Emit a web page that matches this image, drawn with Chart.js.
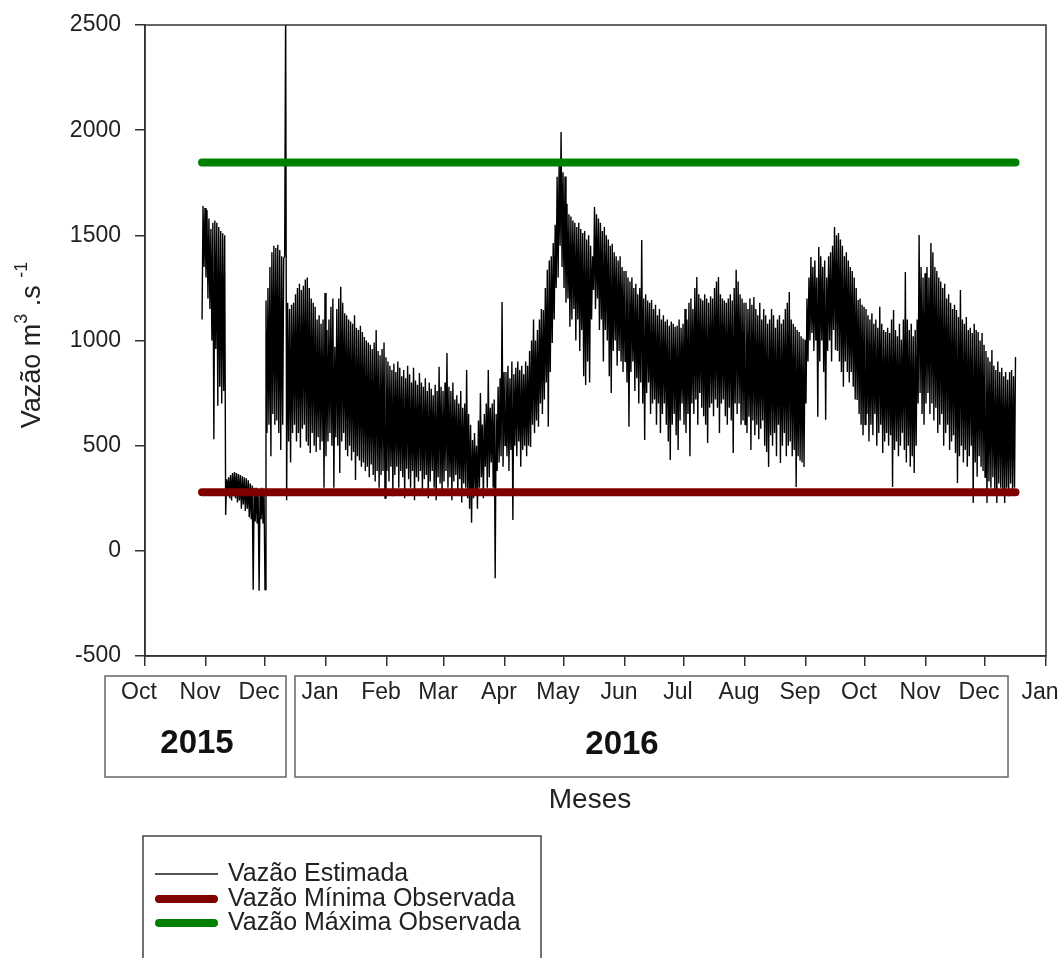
<!DOCTYPE html>
<html>
<head>
<meta charset="utf-8">
<script src="https://cdn.jsdelivr.net/npm/chart.js@4.4.1/dist/chart.umd.min.js"></script>
<style>
  html, body { margin: 0; padding: 0; background: #fff; }
  canvas { display: block; }
</style>
</head>
<body>
<canvas id="grafico" width="1059" height="958"></canvas>
<script>
// Vazão estimada (m3/s): para cada dia, o valor baixo e o alto
// da oscilação diária. dia 0 = 1 Oct 2015
const baixosOut15 = [1100, 1350];
const altosOut15  = [1640, 1630];
const baixosNov15 = [1300, 1200, 1150, 1000, 530, 960, 690, 780, 700, 760,
                     170, 280, 250, 240, 260, 250, 230, 240, 200, 220,
                     190, 200, 160, 150, -185, 140, 130, -190, 150, 130];
const altosNov15  = [1620, 1580, 1530, 1560, 1570, 1560, 1540, 1520, 1510, 1500,
                     340, 350, 360, 370, 375, 370, 365, 360, 355, 350,
                     345, 335, 320, 310, 300, 300, 290, 290, 300, 290];
const baixosDez15 = [-185, 560, 600, 450, 650, 600, 620, 560, 480, 600,
                     1400, 240, 520, 420, 560, 600, 520, 560, 490, 580,
                     600, 520, 500, 465, 560, 500, 470, 540, 480, 520,
                     300];
const altosDez15  = [1190, 1250, 1350, 1420, 1450, 1440, 1455, 1430, 1400, 1390,
                     2600, 1180, 1150, 1170, 1180, 1220, 1250, 1270, 1240, 1260,
                     1290, 1300, 1250, 1200, 1180, 1160, 1100, 1120, 1080, 1100,
                     1226];
const baixosJan16 = [450, 520, 560, 500, 300, 540, 500, 370, 520, 560,
                     480, 450, 500, 430, 470, 337, 450, 430, 400, 420,
                     380, 400, 350, 410, 360, 330, 380, 300, 360, 380,
                     250];
const altosJan16  = [1050, 1100, 1160, 1200, 970, 1150, 1200, 1255, 1180, 1130,
                     1120, 1100, 1090, 1080, 1120, 1060, 1050, 1070, 1040, 1017,
                     1000, 990, 980, 960, 990, 1050, 950, 930, 960, 990,
                     920];
const baixosFev16 = [380, 330, 400, 260, 360, 400, 300, 380, 350, 250,
                     390, 340, 300, 380, 240, 350, 330, 380, 280, 340,
                     360, 250, 330, 380, 300, 240, 350, 320, 280];
const altosFev16  = [900, 880, 860, 890, 850, 900, 870, 830, 860, 820,
                     880, 840, 800, 870, 810, 790, 845, 800, 780, 820,
                     760, 800, 770, 740, 790, 760, 875, 780, 760];
const baixosMar16 = [330, 380, 300, 350, 240, 330, 360, 280, 340, 230,
                     320, 300, 250, 200, 133, 250, 280, 200, 300, 350,
                     250, 400, 300, 350, 420, 300, -130, 380, 420, 450,
                     400];
const altosMar16  = [800, 940, 780, 760, 800, 720, 740, 700, 760, 680,
                     700, 860, 650, 600, 527, 560, 500, 620, 750, 600,
                     650, 700, 860, 680, 700, 720, 650, 780, 820, 1183,
                     850];
const baixosAbr16 = [500, 450, 380, 480, 147, 500, 450, 520, 400, 480,
                     500, 450, 500, 494, 600, 560, 620, 590, 700, 650,
                     720, 800, 590, 850, 988, 1100, 1250, 1300, 1450, 1350];
const altosAbr16  = [850, 880, 820, 900, 840, 870, 900, 860, 880, 840,
                     900, 880, 950, 1000, 1100, 1000, 1050, 1100, 1150, 1145,
                     1250, 1336, 1380, 1400, 1464, 1550, 1778, 1850, 1991, 1800];
const baixosMai16 = [1250, 1180, 1200, 1065, 1100, 1150, 1000, 1100, 950, 1050,
                     830, 789, 900, 800, 1100, 1240, 1150, 1200, 1050, 1100,
                     900, 1050, 1000, 830, 750, 950, 1000, 880, 950, 900,
                     850];
const altosMai16  = [1780, 1650, 1600, 1590, 1570, 1560, 1540, 1560, 1530, 1511,
                     1520, 1480, 1500, 1450, 1400, 1635, 1600, 1580, 1560, 1520,
                     1540, 1500, 1480, 1450, 1460, 1420, 1400, 1380, 1400, 1350,
                     1330];
const baixosJun16 = [900, 800, 590, 850, 900, 760, 820, 700, 800, 700,
                     527, 750, 800, 650, 700, 720, 600, 700, 560, 650,
                     700, 600, 520, 432, 600, 650, 550, 480, 620, 700];
const altosJun16  = [1330, 1300, 1280, 1300, 1250, 1270, 1220, 1250, 1478, 1200,
                     1220, 1190, 1180, 1193, 1150, 1170, 1120, 1150, 1100, 1120,
                     1090, 1100, 1070, 1090, 1080, 1065, 1070, 1100, 1060, 1080];
const baixosJul16 = [600, 560, 650, 450, 700, 650, 720, 600, 750, 680,
                     640, 600, 513, 680, 700, 640, 720, 680, 560, 700,
                     720, 640, 600, 680, 620, 465, 700, 650, 700, 600,
                     620];
const altosJul16  = [1150, 1100, 1180, 1200, 1150, 1250, 1302, 1220, 1200, 1190,
                     1220, 1200, 1180, 1210, 1200, 1250, 1280, 1302, 1220, 1200,
                     1190, 1180, 1200, 1220, 1190, 1250, 1336, 1280, 1220, 1200,
                     1180];
const baixosAgo16 = [600, 560, 637, 480, 620, 550, 600, 530, 580, 620,
                     500, 470, 399, 550, 500, 560, 450, 600, 418, 500,
                     560, 450, 500, 520, 450, 480, 304, 450, 430, 420,
                     399];
const altosAgo16  = [1180, 1150, 1200, 1170, 1207, 1150, 1120, 1180, 1100, 1150,
                     1120, 1080, 1100, 1150, 1120, 1060, 1100, 1120, 1080, 1100,
                     1150, 1180, 1231, 1100, 1080, 1065, 1050, 1040, 1020, 1010,
                     1003];
const baixosSet16 = [700, 900, 1000, 1036, 950, 1000, 637, 900, 1000, 850,
                     623, 950, 1000, 900, 1050, 955, 950, 900, 850, 780,
                     900, 850, 800, 850, 780, 720, 717, 650, 600, 550];
const altosSet16  = [1200, 1300, 1397, 1350, 1380, 1300, 1445, 1400, 1350, 1380,
                     1300, 1400, 1420, 1450, 1540, 1500, 1511, 1480, 1450, 1400,
                     1420, 1380, 1350, 1330, 1300, 1250, 1193, 1200, 1170, 1160];
const baixosOut16 = [600, 650, 520, 600, 550, 650, 500, 560, 600, 465,
                     520, 560, 500, 550, 304, 480, 520, 450, 500, 561,
                     480, 420, 500, 400, 450, 370, 500, 700, 750, 650,
                     600];
const altosOut16  = [1150, 1120, 1100, 1130, 1080, 1100, 1060, 1160, 1080, 1050,
                     1040, 1060, 1036, 1100, 1145, 1050, 1020, 1080, 1003, 1100,
                     1326, 1100, 1050, 1080, 1020, 1050, 1100, 1502, 1350, 1300,
                     1320];
const baixosNov16 = [700, 750, 650, 700, 620, 680, 560, 600, 650, 500,
                     560, 600, 480, 520, 550, 465, 323, 450, 500, 420,
                     480, 400, 450, 500, 228, 420, 352, 450, 400, 380];
const altosNov16  = [1350, 1300, 1464, 1420, 1350, 1330, 1300, 1280, 1250, 1270,
                     1200, 1220, 1180, 1150, 1170, 1145, 1112, 1240, 1100, 1080,
                     1112, 1050, 1060, 1036, 1080, 1050, 1040, 1000, 1036, 980];
const baixosDez16 = [350, 228, 330, 300, 350, 280, 228, 320, 300, 280,
                     228, 300, 260, 320, 280, 300];
const altosDez16  = [950, 920, 900, 955, 880, 860, 900, 850, 870, 830,
                     850, 813, 850, 860, 830, 922];

const baixos = [baixosOut15, baixosNov15, baixosDez15, baixosJan16, baixosFev16, baixosMar16,
                baixosAbr16, baixosMai16, baixosJun16, baixosJul16, baixosAgo16, baixosSet16,
                baixosOut16, baixosNov16, baixosDez16];
const altos = [altosOut15, altosNov15, altosDez15, altosJan16, altosFev16, altosMar16,
               altosAbr16, altosMai16, altosJun16, altosJul16, altosAgo16, altosSet16,
               altosOut16, altosNov16, altosDez16];
const inicioSerie = [29, 31, 61, 92, 123, 152, 183, 213, 244, 274, 305, 336, 366, 397, 427];

// vazões observadas (linhas de referência)
const vazaoMinima = 278;
const vazaoMaxima = 1846;
const diaInicio = 29;
const diaFim = 442.5;

// eixo x: inicio de cada mes
const diasTicks = [0, 31, 61, 92, 123, 152, 183, 213, 244, 274, 305, 336, 366, 397, 427, 458];
const rotulosMeses = ['Oct', 'Nov', 'Dec', 'Jan', 'Feb', 'Mar', 'Apr', 'May', 'Jun',
                      'Jul', 'Aug', 'Sep', 'Oct', 'Nov', 'Dec', 'Jan'];
const ticksY = [-500, 0, 500, 1000, 1500, 2000, 2500];

// baixo no começo do dia, alto no meio do dia
const pontos = [];
baixos.forEach((mes, m) => {
    mes.forEach((v, i) => {
        const dia = inicioSerie[m] + i;
        pontos.push({ x: dia, y: v });
        pontos.push({ x: dia + 0.5, y: altos[m][i] });
    });
});

const fonte = '"Liberation Sans", Arial, sans-serif';
Chart.defaults.font.family = fonte;
Chart.defaults.color = '#222';

// moldura, caixas dos anos, títulos e legenda
const extras = {
    id: 'extras',
    afterDraw(chart) {
        const ctx = chart.ctx;
        const a = chart.chartArea;
        ctx.save();
        ctx.strokeStyle = '#333';
        ctx.lineWidth = 1.5;
        ctx.strokeRect(a.left, a.top, a.right - a.left, a.bottom - a.top);

        // caixas dos anos
        ctx.strokeStyle = '#666';
        ctx.strokeRect(105, 676, 181, 101);
        ctx.strokeRect(295, 676, 713, 101);
        ctx.fillStyle = '#111';
        ctx.textAlign = 'center';
        ctx.textBaseline = 'middle';
        ctx.font = 'bold 33px ' + fonte;
        ctx.fillText('2015', 197, 744);
        ctx.fillText('2016', 622, 745);

        ctx.fillStyle = '#222';
        ctx.font = '28px ' + fonte;
        ctx.fillText('Meses', 590, 800);

        // titulo do eixo y com expoentes
        ctx.save();
        ctx.translate(33, 345);
        ctx.rotate(-Math.PI / 2);
        const partes = [['Vazão m', 27, 0], ['3', 18, -11], [' .s ', 27, 0], ['-1', 18, -11]];
        let total = 0;
        partes.forEach(p => { ctx.font = p[1] + 'px ' + fonte; total += ctx.measureText(p[0]).width; });
        let px = -total / 2;
        ctx.textAlign = 'left';
        partes.forEach(p => {
            ctx.font = p[1] + 'px ' + fonte;
            ctx.fillText(p[0], px, p[2]);
            px += ctx.measureText(p[0]).width;
        });
        ctx.restore();

        // legenda
        ctx.strokeStyle = '#444';
        ctx.lineWidth = 1.5;
        ctx.strokeRect(143, 836, 398, 140);
        const itens = [
            ['Vazão Estimada', '#555', 2, 874],
            ['Vazão Mínima Observada', '#800000', 8, 899],
            ['Vazão Máxima Observada', '#008000', 8, 923]
        ];
        ctx.textAlign = 'left';
        ctx.font = '25px ' + fonte;
        itens.forEach(it => {
            ctx.strokeStyle = it[1];
            ctx.lineWidth = it[2];
            ctx.lineCap = it[2] > 2 ? 'round' : 'butt';
            ctx.beginPath();
            ctx.moveTo(it[2] > 2 ? 159 : 155, it[3]);
            ctx.lineTo(it[2] > 2 ? 214 : 218, it[3]);
            ctx.stroke();
            ctx.fillStyle = '#222';
            ctx.fillText(it[0], 228, it[3]);
        });
        ctx.restore();
    }
};

const ctx = document.getElementById('grafico').getContext('2d');
new Chart(ctx, {
    type: 'line',
    data: {
        datasets: [
            {
                label: 'Vazão Máxima Observada',
                data: [{ x: diaInicio, y: vazaoMaxima }, { x: diaFim, y: vazaoMaxima }],
                borderColor: '#008000',
                borderWidth: 8,
                borderCapStyle: 'round',
                pointRadius: 0,
                order: 0
            },
            {
                label: 'Vazão Mínima Observada',
                data: [{ x: diaInicio, y: vazaoMinima }, { x: diaFim, y: vazaoMinima }],
                borderColor: '#800000',
                borderWidth: 8,
                borderCapStyle: 'round',
                pointRadius: 0,
                order: 1
            },
            {
                label: 'Vazão Estimada',
                data: pontos,
                borderColor: '#000',
                borderWidth: 1.4,
                borderJoinStyle: 'bevel',
                pointRadius: 0,
                tension: 0,
                order: 2
            }
        ]
    },
    options: {
        responsive: false,
        animation: false,
        layout: { padding: { left: 0, right: 13, top: 25, bottom: 0 } },
        plugins: { legend: { display: false }, tooltip: { enabled: false } },
        scales: {
            x: {
                type: 'linear',
                min: 0,
                max: 458,
                afterBuildTicks: s => { s.ticks = diasTicks.map(v => ({ value: v })); },
                afterFit: s => { s.height = 302; s.paddingLeft = 0; s.paddingRight = 0; },
                ticks: {
                    autoSkip: false,
                    maxRotation: 0,
                    padding: 13,
                    labelOffset: -6,
                    font: { size: 23 },
                    color: '#222',
                    callback: (v, i) => rotulosMeses[i]
                },
                grid: { drawOnChartArea: false, tickLength: 10, color: '#333', lineWidth: 1.5 },
                border: { color: '#333', width: 1.5 }
            },
            y: {
                min: -500,
                max: 2500,
                afterBuildTicks: s => { s.ticks = ticksY.map(v => ({ value: v })); },
                afterFit: s => { s.width = 145; s.paddingTop = 0; s.paddingBottom = 0; },
                ticks: {
                    padding: 14,
                    font: { size: 23 },
                    color: '#222',
                    callback: v => String(v)
                },
                grid: { drawOnChartArea: false, tickLength: 10, color: '#333', lineWidth: 1.5 },
                border: { color: '#333', width: 1.5 }
            }
        }
    },
    plugins: [extras]
});
</script>
</body>
</html>
